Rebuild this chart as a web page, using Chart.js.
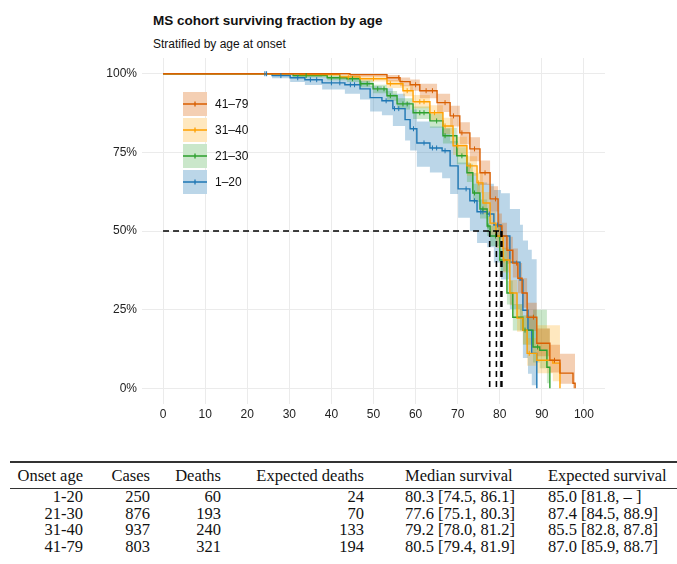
<!DOCTYPE html>
<html>
<head>
<meta charset="utf-8">
<script src="https://cdn.jsdelivr.net/npm/chart.js@4.4.1/dist/chart.umd.min.js"></script>
<style>
  body { margin: 0; background: #fff; width: 677px; height: 564px; position: relative; overflow: hidden;
         font-family: 'Liberation Sans', Arial, sans-serif; color: #111; }
  #title { position: absolute; left: 153px; top: 14px; font-size: 13.5px; font-weight: bold; line-height: 1; white-space: nowrap; }
  #subtitle { position: absolute; left: 153px; top: 38px; font-size: 12px; line-height: 1; white-space: nowrap; }
  #chart { position: absolute; left: 0; top: 0; }
  .cell { position: absolute; font-family: 'Liberation Serif', 'Times New Roman', serif; font-size: 16.5px;
          line-height: 16px; white-space: nowrap; color: #111; }
  .rule { position: absolute; left: 10px; right: 0; background: #333; }
</style>
</head>
<body>
<div id="title">MS cohort surviving fraction by age</div>
<div id="subtitle">Stratified by age at onset</div>
<canvas id="chart" width="677" height="430"></canvas>
<div id="table"></div>
<script>
// axis ticks
const ageTicks = [0, 10, 20, 30, 40, 50, 60, 70, 80, 90, 100];
const pctTicks = [0, 25, 50, 75, 100];

// groups (legend order)
const groups = ['41–79', '31–40', '21–30', '1–20'];
const lineColors = ['#d95f02', '#ffa000', '#2ca02c', '#1f77b4'];
const bandColors = ['rgba(217,95,2,0.30)', 'rgba(255,165,0,0.25)', 'rgba(44,160,44,0.25)', 'rgba(31,119,180,0.30)'];

// survival curves [age, percent surviving]
const surv4179 = [[0,100],[32.5,100],[44.4,99.7],[53.2,98.7],[56.3,97.5],[58.7,96.5],[61.0,94.6],[65.1,90.8],
  [68.2,86.6],[70.5,81.2],[72.9,76.1],[75.3,68.5],[77.7,60.2],[79.6,51.6],[80.5,48.4],[81.7,43.9],[83.1,39.8],
  [84.3,35.0],[85.3,30.3],[86.5,22.6],[88.8,14.3],[91.9,8.9],[94.3,4.8],[97.4,1.6],[97.9,0]];
const surv3140 = [[0,100],[32.5,99.7],[42.0,99.0],[46.8,98.4],[53.2,96.8],[57.0,94.6],[59.4,91.1],[63.4,87.6],
  [66.5,83.4],[68.9,77.1],[72.2,70.7],[74.6,65.3],[76.0,58.9],[77.7,52.5],[79.1,48.4],[80.8,40.8],[82.4,30.3],
  [84.1,22.3],[85.5,18.5],[86.5,11.1],[88.8,8.9],[92.6,8.0],[94.3,0]];
const surv2130 = [[0,100],[25.4,100],[30.9,99.4],[39.0,98.7],[43.7,98.4],[46.8,96.8],[49.9,95.2],[53.2,93.0],
  [55.6,90.4],[59.4,87.6],[63.4,85.0],[66.5,80.3],[69.8,73.9],[72.2,68.5],[73.6,62.1],[75.3,57.0],[77.0,51.6],
  [77.7,48.4],[80.0,40.8],[81.7,30.3],[83.1,22.6],[85.5,18.5],[87.9,13.1],[89.5,12.1],[91.2,6.7],[91.9,0]];
const surv120 = [[0,100],[24.9,100],[25.9,99.4],[30.2,98.7],[33.7,98.1],[37.8,97.1],[43.2,96.5],[46.8,95.2],
  [49.2,92.4],[52.0,91.4],[54.6,88.9],[57.5,85.4],[58.7,82.5],[60.3,78.0],[63.4,76.4],[66.3,75.5],[68.2,70.7],
  [70.1,63.4],[72.9,59.6],[74.6,56.1],[77.0,55.4],[78.6,51.9],[80.3,48.4],[82.4,40.1],[84.8,34.4],[85.5,24.8],
  [86.7,18.5],[87.6,11.1],[88.8,0]];

// confidence bands [age, lower, upper]
const ci4179 = [[0,100,100],[44.4,99,100],[53.2,97.5,99.6],[56.3,96,98.8],[58.7,94.6,98.2],[61.0,92.2,96.8],
  [65.1,87.8,93.6],[68.2,83.2,89.8],[70.5,77.6,84.6],[72.9,72.2,79.8],[75.3,64.6,72.4],[77.7,56.2,64.2],
  [79.6,47.6,55.6],[80.5,44.2,52.6],[81.7,39.6,48.2],[83.1,35.2,44.4],[84.3,30.2,39.8],[85.3,25.6,35.0],
  [86.5,18.2,27.2],[88.8,10.2,19.0],[91.9,5.0,13.8],[94.3,1.4,11.0],[97.4,0,11.0],[97.9,0,11.0]];
const ci3140 = [[0,100,100],[32.5,99.2,100],[42.0,98.3,99.6],[46.8,97.5,99.2],[53.2,95.5,98.0],[57.0,92.8,96.3],
  [59.4,89.0,93.2],[63.4,85.2,90.0],[66.5,80.8,86.0],[68.9,74.2,80.0],[72.2,67.6,73.8],[74.6,62.0,68.6],
  [76.0,55.4,62.4],[77.7,48.8,56.2],[79.1,44.6,52.2],[80.8,36.8,44.8],[82.4,26.4,34.4],[84.1,18.0,26.6],
  [85.5,14.0,23.0],[86.5,7.2,16.0],[88.8,4.8,20.0],[92.6,2.2,20.0],[94.3,2.2,20.0]];
const ci2130 = [[0,100,100],[25.4,100,100],[30.9,98.8,100],[39.0,97.9,99.4],[43.7,97.4,99.2],[46.8,95.7,97.9],
  [49.9,93.8,96.5],[53.2,91.4,94.5],[55.6,88.6,92.2],[59.4,85.6,89.6],[63.4,82.8,87.2],[66.5,77.8,82.8],
  [69.8,71.2,76.6],[72.2,65.6,71.4],[73.6,59.2,65.0],[75.3,54.0,60.0],[77.0,48.4,54.8],[77.7,45.2,51.6],
  [80.0,37.2,44.4],[81.7,26.6,34.2],[83.1,18.4,26.8],[85.5,13.8,23.2],[87.9,8.2,25.0],[89.5,6.4,25.0],
  [91.2,1.6,19.0],[91.9,1.6,19.0]];
const ci120 = [[0,100,100],[24.9,100,100],[25.9,98.6,100],[30.2,97.4,99.8],[33.7,96.4,99.6],[37.8,95.0,99.0],
  [43.2,93.6,98.8],[46.8,91.8,97.8],[49.2,88.0,96.0],[52.0,86.8,95.4],[54.6,83.4,93.6],[57.5,78.8,91.0],
  [58.7,75.6,88.6],[60.3,70.4,84.8],[63.4,68.6,83.2],[66.3,66.8,82.6],[68.2,61.8,78.6],[70.1,54.2,71.8],
  [72.9,50.0,68.4],[74.6,46.2,65.4],[77.0,44.8,65.0],[78.6,40.0,63.0],[80.3,34.6,62.0],[82.4,25.2,57.0],
  [84.8,18.4,52.0],[85.5,9.6,47.0],[86.7,4.6,44.0],[87.6,1.0,41.0],[88.8,0,41.0]];

// censoring ages
const cens4179 = [56, 60, 62.5, 64, 67, 69, 71, 74, 76.5, 79, 84, 88, 93];
const cens3140 = [44, 50, 54, 58, 61, 62, 64.5, 67, 70, 73, 75, 81, 87];
const cens2130 = [34, 40, 42, 45, 47, 48.5, 51, 52.5, 54, 57, 58, 61, 62, 65, 67, 71, 74, 76, 77.2, 79, 86, 89];
const cens120 = [24.2, 24.6, 28, 32, 35, 36.5, 40, 42, 44.5, 45.5, 53, 55, 56, 59.5, 62, 64, 65, 67, 72, 74, 75.5, 76, 77.5, 79.5];

// median survival per group (same order as groups)
const medians = [80.5, 79.2, 77.6, 80.3];

// table
const tableHeader = ['Onset age', 'Cases', 'Deaths', 'Expected deaths', 'Median survival', 'Expected survival'];
const tableRows = [
  ['1-20', '250', '60', '24', '80.3 [74.5, 86.1]', '85.0 [81.8, – ]'],
  ['21-30', '876', '193', '70', '77.6 [75.1, 80.3]', '87.4 [84.5, 88.9]'],
  ['31-40', '937', '240', '133', '79.2 [78.0, 81.2]', '85.5 [82.8, 87.8]'],
  ['41-79', '803', '321', '194', '80.5 [79.4, 81.9]', '87.0 [85.9, 88.7]']
];

const survs = [surv4179, surv3140, surv2130, surv120];
const cis = [ci4179, ci3140, ci2130, ci120];
const censs = [cens4179, cens3140, cens2130, cens120];

function stepAt(curve, age) {
  let y = curve[0][1];
  curve.forEach(p => { if (p[0] <= age) y = p[1]; });
  return y;
}

const datasets = [];
groups.forEach((g, i) => {
  datasets.push({
    data: cis[i].map(r => ({ x: r[0], y: r[2] })), stepped: true, fill: '+1',
    backgroundColor: bandColors[i], borderColor: 'rgba(0,0,0,0)', borderWidth: 0, pointRadius: 0, order: 4
  });
  datasets.push({
    data: cis[i].map(r => ({ x: r[0], y: r[1] })), stepped: true, fill: false,
    borderColor: 'rgba(0,0,0,0)', borderWidth: 0, pointRadius: 0, order: 4
  });
});
groups.forEach((g, i) => {
  datasets.push({
    data: survs[i].map(p => ({ x: p[0], y: p[1] })), stepped: true, fill: false,
    borderColor: lineColors[i], borderWidth: 1.4, pointRadius: 0, order: 3
  });
  datasets.push({
    data: censs[i].map(a => ({ x: a, y: stepAt(survs[i], a) })), showLine: false,
    pointStyle: 'line', rotation: 90, pointRadius: 2.5, pointBorderWidth: 1,
    pointBorderColor: lineColors[i], order: 2
  });
});
// median reference lines
const maxMedian = Math.max(...medians);
datasets.push({
  data: [{ x: 0, y: 50 }, { x: maxMedian, y: 50 }], borderColor: '#000', borderWidth: 1.5,
  borderDash: [6, 4], pointRadius: 0, fill: false, order: 1
});
medians.forEach(m => {
  datasets.push({
    data: [{ x: m, y: 50 }, { x: m, y: 0 }], borderColor: '#000', borderWidth: 1.6,
    borderDash: [6, 4], pointRadius: 0, fill: false, order: 1
  });
});

// legend drawn inside the plot
const insideLegend = {
  id: 'insideLegend',
  afterDraw(chart) {
    const ctx = chart.ctx;
    ctx.save();
    groups.forEach((g, i) => {
      const x = 183, y = 92 + i * 26;
      ctx.fillStyle = '#fff';
      ctx.fillRect(x, y, 24, 24);
      ctx.fillStyle = bandColors[i];
      ctx.fillRect(x, y, 24, 24);
      ctx.strokeStyle = lineColors[i];
      ctx.lineWidth = 1.3;
      ctx.beginPath();
      ctx.moveTo(x, y + 12); ctx.lineTo(x + 24, y + 12);
      ctx.moveTo(x + 12, y + 9.5); ctx.lineTo(x + 12, y + 14.5);
      ctx.stroke();
      ctx.fillStyle = '#111';
      ctx.font = '12px "Liberation Sans", Arial, sans-serif';
      ctx.textBaseline = 'middle';
      ctx.fillText(g, 215, y + 12.5);
    });
    ctx.restore();
  }
};

Chart.defaults.font.family = "'Liberation Sans', Arial, sans-serif";

new Chart(document.getElementById('chart'), {
  type: 'line',
  data: { datasets: datasets },
  options: {
    responsive: false,
    animation: false,
    layout: { padding: { left: 0, top: 58, right: 72, bottom: 0 } },
    plugins: { legend: { display: false }, tooltip: { enabled: false } },
    scales: {
      x: {
        type: 'linear', min: -5, max: 105,
        afterBuildTicks: s => { s.ticks = ageTicks.map(v => ({ value: v })); },
        afterFit: s => { s.height = 26; },
        grid: { color: '#ebebeb', drawTicks: false },
        border: { display: false },
        ticks: { padding: 3, color: '#222', font: { size: 12 } }
      },
      y: {
        type: 'linear', min: -5, max: 105,
        afterBuildTicks: s => { s.ticks = pctTicks.map(v => ({ value: v })); },
        afterFit: s => { s.width = 142; },
        grid: { color: '#ebebeb', drawTicks: false },
        border: { display: false },
        ticks: { padding: 5, color: '#222', font: { size: 12 }, callback: v => v + '%' }
      }
    }
  },
  plugins: [insideLegend]
});

// table below the chart
const colX = [83, 150, 221, 364, 405, 548];
const colAlign = ['right', 'right', 'right', 'right', 'left', 'left'];
const rowY = [476, 497, 514, 530, 547];
const table = document.getElementById('table');
function addCell(text, c, yc) {
  const d = document.createElement('div');
  d.className = 'cell';
  d.textContent = text;
  d.style.top = (yc - 8) + 'px';
  if (colAlign[c] === 'right') d.style.right = (677 - colX[c]) + 'px';
  else d.style.left = colX[c] + 'px';
  table.appendChild(d);
}
tableHeader.forEach((h, c) => addCell(h, c, rowY[0]));
tableRows.forEach((r, i) => r.forEach((v, c) => addCell(v, c, rowY[i + 1])));
[[461, 1.6], [488, 1]].forEach(([y, h]) => {
  const d = document.createElement('div');
  d.className = 'rule';
  d.style.top = y + 'px';
  d.style.height = h + 'px';
  table.appendChild(d);
});
</script>
</body>
</html>
